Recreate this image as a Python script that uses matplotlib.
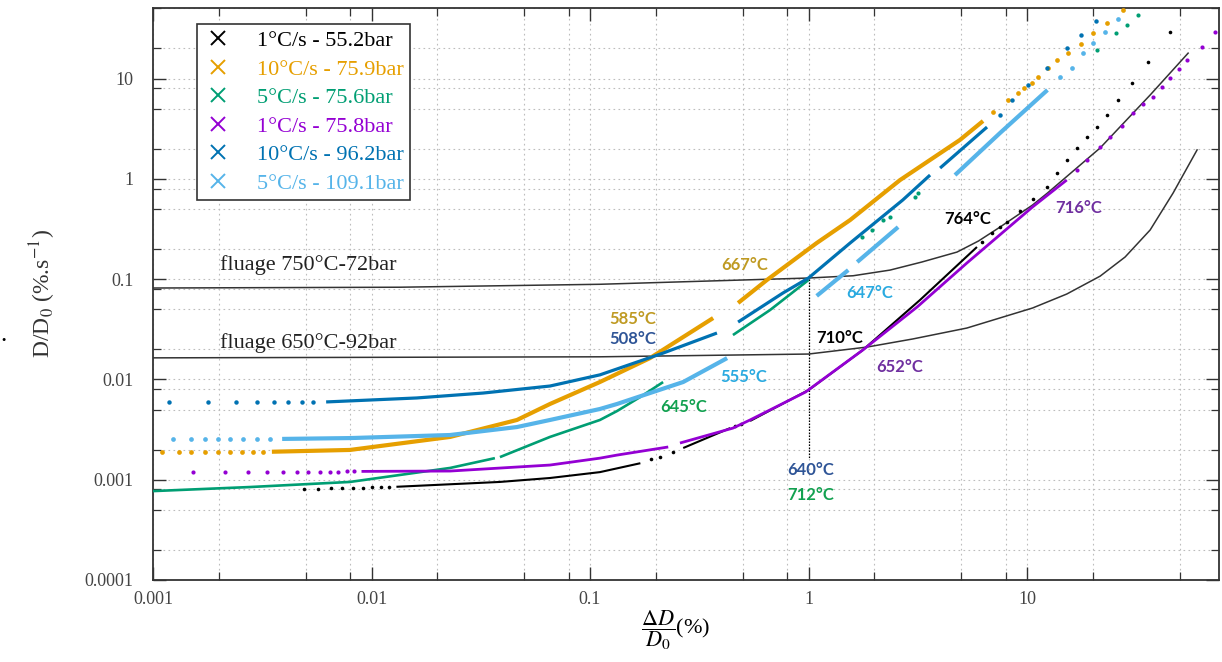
import matplotlib
matplotlib.use("Agg")
import matplotlib.pyplot as plt
from matplotlib.lines import Line2D
from matplotlib.ticker import LogLocator, NullFormatter

nan = float("nan")

# ---- legend / series identity ------------------------------------------------
SERIES_LABELS = ["1°C/s - 55.2bar", "10°C/s - 75.9bar", "5°C/s - 75.6bar",
                 "1°C/s - 75.8bar", "10°C/s - 96.2bar", "5°C/s - 109.1bar"]
SERIES_COLORS = ["#000000", "#E69F00", "#009E73", "#9400D3", "#0072B2", "#56B4E9"]

# ---- black : 1°C/s - 55.2bar --------------------------------------------------
black_line_x = [0.013, 0.0387, 0.0656, 0.111, 0.17, nan, 0.267, 0.438, nan,
                0.54, 1.0, 1.77, 3.24, 5.9]
black_line_y = [0.00085, 0.00095, 0.00104, 0.00119, 0.00146, nan, 0.00207, 0.00327, nan,
                0.00385, 0.00783, 0.0196, 0.062, 0.209]
black_dot_x = [0.0049, 0.0057, 0.0065, 0.0073, 0.0082, 0.0091, 0.0100, 0.0110, 0.0120,
               0.19, 0.21, 0.24, 0.46, 0.49,
               6.22, 6.92, 7.52, 8.09, 9.29, 10.6, 12.4, 13.7, 15.2, 16.9, 18.8,
               20.9, 23.2, 26.1, 30.2, 35.8, 45.1]
black_dot_y = [0.00081, 0.00081, 0.00082, 0.00082, 0.00083, 0.00083, 0.00084, 0.00084, 0.00085,
               0.0016, 0.0017, 0.00189, 0.0034, 0.0036,
               0.234, 0.289, 0.330, 0.371, 0.477, 0.629, 0.828, 1.14, 1.54, 2.03, 2.61,
               3.28, 4.32, 6.11, 9.02, 14.6, 29.1]

# ---- orange : 10°C/s - 75.9bar ------------------------------------------------
orange_line_x = [0.0035, 0.00797, 0.0229, 0.0463, 0.0656, 0.111, 0.188, 0.366, nan,
                 0.476, 0.645, 1.09, 1.55, 2.62, 4.93, 6.29]
orange_line_y = [0.0019, 0.00198, 0.00267, 0.00394, 0.00569, 0.00942, 0.0163, 0.0409, nan,
                 0.0578, 0.098, 0.229, 0.388, 0.97, 2.44, 3.77]
orange_dot_x = [0.0011, 0.00131, 0.00149, 0.00173, 0.00199, 0.00225, 0.00255, 0.00288, 0.0032,
                6.99, 8.18, 9.1, 9.69, 10.5, 11.2, 12.5, 13.7, 15.4, 17.7, 20.0, 23.2, 27.5]
orange_dot_y = [0.0019, 0.0019, 0.0019, 0.0019, 0.0019, 0.0019, 0.0019, 0.0019, 0.0019,
                4.63, 6.11, 7.16, 8.04, 9.02, 10.4, 12.7, 15.3, 17.9, 22.1, 28.4, 35.7, 48.2]

# ---- green : 5°C/s - 75.6bar --------------------------------------------------
green_line_x = [0.001, 0.00278, 0.00797, 0.0229, 0.0367, nan, 0.0387, 0.0656, 0.111,
                0.133, 0.17, 0.216, nan, 0.451, 0.667, 1.0]
green_line_y = [0.00077, 0.000845, 0.00095, 0.00131, 0.00164, nan, 0.00168, 0.00267, 0.00394,
                0.00484, 0.00669, 0.0094, nan, 0.0277, 0.0492, 0.098]
green_dot_x = [1.76, 1.95, 2.19, 2.36, 3.07, 3.17, 20.9, 25.5, 28.7, 32.2]
green_dot_y = [0.263, 0.309, 0.388, 0.416, 0.659, 0.721, 19.2, 28.4, 34.1, 43.0]

# ---- purple : 1°C/s - 75.8bar -------------------------------------------------
purple_line_x = [0.009, 0.0229, 0.0656, 0.111, 0.133, 0.228, nan, 0.258, 0.451, 0.54,
                 0.969, 1.77, 3.14, 5.31, 10.6, 15.2]
purple_line_y = [0.00121, 0.00122, 0.0014, 0.00164, 0.00176, 0.00212, nan, 0.00232, 0.00327,
                 0.00394, 0.00748, 0.0196, 0.0527, 0.145, 0.524, 0.973]
purple_dot_x = [0.00153, 0.00214, 0.00273, 0.00331, 0.00394, 0.00455, 0.00514, 0.00581,
                0.00646, 0.00705, 0.0077, 0.0083,
                16.9, 18.8, 21.6, 24.0, 27.2, 30.5, 34.0, 37.7, 41.5, 45.1, 49.6, 54.0,
                63.2, 72.5]
purple_dot_y = [0.0012, 0.0012, 0.0012, 0.0012, 0.0012, 0.0012, 0.0012, 0.0012,
                0.0012, 0.0012, 0.00121, 0.00121,
                1.22, 1.54, 2.07, 2.61, 3.36, 4.53, 5.57, 6.55, 8.23, 10.1, 12.4, 15.3,
                20.6, 29.1]

# ---- blue : 10°C/s - 96.2bar --------------------------------------------------
blue_line_x = [0.0062, 0.0161, 0.0324, 0.0656, 0.111, 0.216, 0.381, nan, 0.476, 0.763,
               1.0, 1.55, 2.70, 3.60, nan, 4.0, 6.56]
blue_line_y = [0.00596, 0.00653, 0.00731, 0.00859, 0.0111, 0.0183, 0.029, nan, 0.0373, 0.0726,
               0.1026, 0.229, 0.615, 1.09, nan, 1.28, 3.28]
blue_dot_x = [0.00118, 0.00179, 0.0024, 0.00299, 0.00358, 0.00415, 0.00481, 0.0054,
              7.52, 8.54, 10.1, 12.4, 15.2, 17.7, 20.7]
blue_dot_y = [0.00596, 0.00596, 0.00596, 0.00596, 0.00596, 0.00596, 0.00596, 0.00596,
              4.32, 6.11, 8.61, 12.7, 20.1, 27.2, 37.4]

# ---- light blue : 5°C/s - 109.1bar -------------------------------------------
lblue_line_x = [0.0039, 0.00797, 0.0229, 0.0463, 0.0656, 0.111, 0.133, 0.267, 0.424, nan,
                1.09, 1.52, nan, 1.67, 2.57, nan, 4.68, 7.52, 12.4]
lblue_line_y = [0.00255, 0.0026, 0.00279, 0.00335, 0.00394, 0.00507, 0.00569, 0.00942, 0.0163, nan,
                0.068, 0.123, nan, 0.148, 0.33, nan, 1.09, 2.86, 7.68]
lblue_dot_x = [0.00124, 0.00149, 0.00173, 0.00198, 0.00225, 0.00258, 0.00299, 0.00343,
               14.2, 16.1, 18.0, 20.0, 22.7, 26.1]
lblue_dot_y = [0.00255, 0.00255, 0.00255, 0.00255, 0.00255, 0.00255, 0.00255, 0.00255,
               10.4, 12.7, 17.9, 22.6, 29.1, 39.2]

# ---- creep ("fluage") reference curves ---------------------------------------
creep750_x = [0.001, 0.0135, 0.111, 1.0, 1.6, 2.36, 3.3, 4.78, 6.0, 7.52, 10.6, 12.4,
              21.6, 36.6, 54.6]
creep750_y = [0.0815, 0.083, 0.0888, 0.1025, 0.108, 0.123, 0.148, 0.186, 0.24, 0.330,
              0.548, 0.721, 2.03, 6.85, 17.9]
creep650_x = [0.001, 0.111, 1.0, 1.85, 3.0, 5.3, 10.6, 15.2, 21.6, 28.1, 36.6, 46.6, 60.0]
creep650_y = [0.0164, 0.0168, 0.0179, 0.021, 0.0253, 0.0325, 0.0515, 0.071, 0.107, 0.166,
              0.309, 0.721, 1.94]
creep_labels = ["fluage 750°C-72bar", "fluage 650°C-92bar"]

# dotted marker line at dD/D0 = 1 %
marker_x = [1.0, 1.0]
marker_y = [0.1, 0.00164]

# ---- temperature annotations --------------------------------------------------
ann_text = ["667°C", "585°C", "508°C", "764°C", "716°C", "647°C",
            "710°C", "652°C", "555°C", "645°C", "640°C", "712°C"]
ann_x = [0.511, 0.157, 0.157, 5.37, 17.3, 1.91, 1.39, 2.62, 0.507, 0.269, 1.02, 1.02]
ann_y = [0.138, 0.040, 0.0253, 0.397, 0.512, 0.0726, 0.0259, 0.0133, 0.0106, 0.00531,
         0.00125, 0.000703]
ann_colors = ["#BF9A22", "#BF9A22", "#2F5597", "#000000", "#7030A0", "#2AAAE0",
              "#000000", "#7030A0", "#2AAAE0", "#12A150", "#2F5597", "#12A150"]

x_ticks = [0.001, 0.01, 0.1, 1, 10]
x_tick_labels = ["0.001", "0.01", "0.1", "1", "10"]
y_ticks = [0.0001, 0.001, 0.01, 0.1, 1, 10]
y_tick_labels = ["0.0001", "0.001", "0.01", "0.1", "1", "10"]

plt.rcParams["mathtext.fontset"] = "stix"
SERIF = "Liberation Serif"

fig = plt.figure(figsize=(12.22, 6.62), dpi=100)
fig.patch.set_facecolor("white")
ax = fig.add_axes([153 / 1222, 1 - 580 / 662, 1066 / 1222, 571.6 / 662])
ax.set_xscale("log")
ax.set_yscale("log")
ax.set_xlim(0.001, 75.6)
ax.set_ylim(1e-4, 50)

# grid at major and minor (2, 5, 8) positions
ax.xaxis.set_minor_locator(LogLocator(base=10, subs=(2, 5, 8)))
ax.yaxis.set_minor_locator(LogLocator(base=10, subs=(2, 5, 8)))
ax.xaxis.set_minor_formatter(NullFormatter())
ax.yaxis.set_minor_formatter(NullFormatter())
ax.grid(which="both", color="#bdbdbd", linestyle=(0, (1.5, 3)), linewidth=0.8, zorder=0)
ax.set_axisbelow(True)

ax.set_xticks(x_ticks)
ax.set_xticklabels(x_tick_labels, fontfamily=SERIF, fontsize=13, color="#444444")
ax.set_yticks(y_ticks)
ax.set_yticklabels(y_tick_labels, fontfamily=SERIF, fontsize=13, color="#444444")
ax.tick_params(which="both", direction="in", top=True, right=True, color="#333333")
ax.tick_params(which="major", length=9.5, width=1.0)
ax.tick_params(which="minor", length=5.5, width=0.9)
ax.tick_params(axis="x", which="major", pad=8)
ax.tick_params(axis="y", which="major", pad=14)
for sp in ax.spines.values():
    sp.set_color("#333333")
    sp.set_linewidth(1.3)

# creep reference curves
ax.plot(creep750_x, creep750_y, color="#333333", lw=1.1, zorder=3)
ax.plot(creep650_x, creep650_y, color="#333333", lw=1.1, zorder=3)
ax.text(0.00203, 0.138, creep_labels[0], fontfamily=SERIF, fontsize=16,
        color="#222222", va="center", ha="left")
ax.text(0.00203, 0.0231, creep_labels[1], fontfamily=SERIF, fontsize=16,
        color="#222222", va="center", ha="left")

ax.plot(marker_x, marker_y, color="#000000", lw=0.9, ls=(0, (1.2, 1.2)), zorder=4)

# data series: dense parts drawn as lines, sparse samples as dots
series = [
    (black_line_x, black_line_y, black_dot_x, black_dot_y, 1.5, 2.6),
    (orange_line_x, orange_line_y, orange_dot_x, orange_dot_y, 3.0, 3.4),
    (green_line_x, green_line_y, green_dot_x, green_dot_y, 1.9, 3.0),
    (purple_line_x, purple_line_y, purple_dot_x, purple_dot_y, 2.0, 3.0),
    (blue_line_x, blue_line_y, blue_dot_x, blue_dot_y, 2.3, 3.2),
    (lblue_line_x, lblue_line_y, lblue_dot_x, lblue_dot_y, 3.0, 3.4),
]
draw_order = [0, 3, 2, 5, 4, 1]
for i in draw_order:
    lx, ly, dx, dy, lw, ms = series[i]
    c = SERIES_COLORS[i]
    ax.plot(lx, ly, color=c, lw=lw, solid_capstyle="butt", zorder=5 + i * 0.1)
    ax.plot(dx, dy, ls="none", marker="o", ms=ms, mew=0, color=c, zorder=5 + i * 0.1)

for t, x, y, c in zip(ann_text, ann_x, ann_y, ann_colors):
    ax.text(x, y, t, color=c, fontfamily="Lato", fontweight="bold", fontsize=12,
            ha="center", va="center", zorder=8)

# legend
handles = [Line2D([], [], ls="none", marker="x", ms=10, mew=1.4, color=c)
           for c in SERIES_COLORS]
leg = ax.legend(handles, SERIES_LABELS, loc="upper left", bbox_to_anchor=(0.041, 0.973),
                borderaxespad=0, prop={"family": SERIF, "size": 16},
                labelspacing=0.36, handlelength=1.3, handletextpad=1.1,
                borderpad=0.3, fancybox=False, framealpha=1, edgecolor="#333333")
leg.get_frame().set_linewidth(1.2)
for txt, c in zip(leg.get_texts(), SERIES_COLORS):
    txt.set_color(c)
leg.set_zorder(10)

# axis titles
fig.text(43 / 1222, 1 - 294 / 662, r"D/D$_0$ (%.s$^{-1}$)", rotation=90,
         fontfamily=SERIF, fontsize=17, color="#333333", ha="center", va="center")
fig.text(4 / 1222, 1 - 341 / 662, ".", fontfamily=SERIF, fontsize=18,
         color="#000000", ha="center", va="baseline")
fig.text(676 / 1222, 1 - 630 / 662, r"$\dfrac{\Delta D}{D_0}$(%)", fontfamily=SERIF,
         fontsize=16, color="#000000", ha="center", va="center")

fig.savefig("out.png", dpi=100, facecolor="white")
